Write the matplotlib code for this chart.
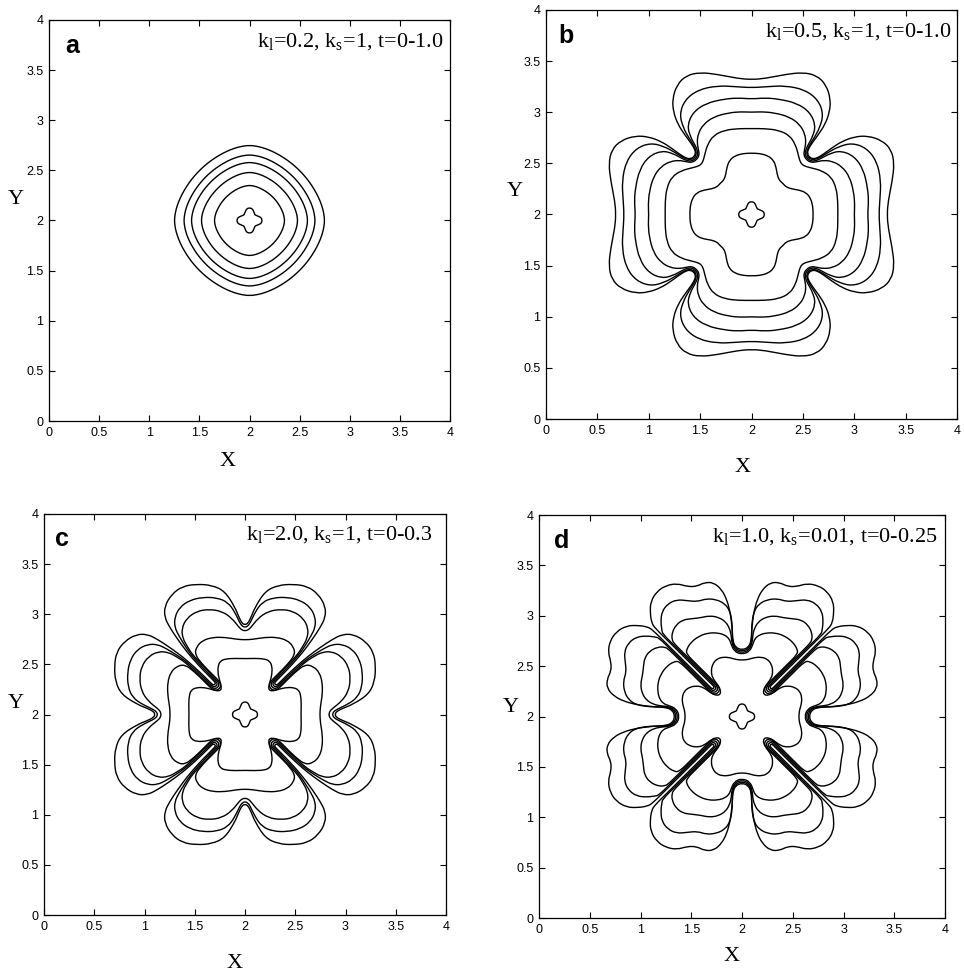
import matplotlib
matplotlib.use("Agg")
import matplotlib.pyplot as plt
from matplotlib.path import Path
from matplotlib.patches import PathPatch
import numpy as np

plt.rcParams.update({
    "font.family": ["Liberation Serif", "DejaVu Serif"],
    "mathtext.fontset": "custom",
    "mathtext.rm": "Liberation Serif",
    "mathtext.it": "Liberation Serif:italic",
    "axes.linewidth": 0.9,
})

W, H = 964, 980
CENTER = (2.0, 2.0)
TICKS = [0, 0.5, 1, 1.5, 2, 2.5, 3, 3.5, 4]
TICK_LABELS = ["0", "0.5", "1", "1.5", "2", "2.5", "3", "3.5", "4"]

PANEL_LETTERS = ["a", "b", "c", "d"]
PANEL_NOTES = [
    r"k$_\mathrm{l}$=0.2, k$_\mathrm{s}$=1, t=0-1.0",
    r"k$_\mathrm{l}$=0.5, k$_\mathrm{s}$=1, t=0-1.0",
    r"k$_\mathrm{l}$=2.0, k$_\mathrm{s}$=1, t=0-0.3",
    r"k$_\mathrm{l}$=1.0, k$_\mathrm{s}$=0.01, t=0-0.25",
]

# each contour: one octant (from the +x axis to the diagonal), offsets from centre;
# the rest of the closed curve follows from the four-fold symmetry
SEED = [(0.125, 0.0), (0.121, 0.02), (0.107, 0.034), (0.087, 0.042), (0.07, 0.05), (0.055, 0.055)]

PANEL_A = [
    [(0.35, 0.0), (0.345, 0.037), (0.336, 0.071), (0.322, 0.106), (0.303, 0.142), (0.28, 0.178),
     (0.257, 0.207), (0.233, 0.233)],
    [(0.48, 0.0), (0.474, 0.051), (0.461, 0.098), (0.442, 0.146), (0.416, 0.195), (0.384, 0.244),
     (0.352, 0.284), (0.319, 0.319)],
    [(0.58, 0.0), (0.572, 0.062), (0.557, 0.118), (0.534, 0.176), (0.503, 0.235), (0.464, 0.295),
     (0.425, 0.343), (0.386, 0.386)],
    [(0.655, 0.0), (0.646, 0.07), (0.629, 0.134), (0.603, 0.199), (0.568, 0.265), (0.524, 0.333),
     (0.48, 0.388), (0.436, 0.436)],
    [(0.75, 0.0), (0.74, 0.08), (0.72, 0.153), (0.69, 0.228), (0.65, 0.304), (0.60, 0.381),
     (0.55, 0.444), (0.499, 0.499)],
]

PANEL_B = [
    [(0.60, 0.0), (0.597, 0.08), (0.575, 0.16), (0.53, 0.215), (0.46, 0.24), (0.39, 0.25), (0.335, 0.27),
     (0.305, 0.305)],
    [(0.84, 0.0), (0.84, 0.13), (0.825, 0.26), (0.775, 0.37), (0.68, 0.43), (0.585, 0.455), (0.525, 0.47),
     (0.49, 0.49)],
    [(1.0, 0.0), (1.005, 0.1), (0.995, 0.22), (0.955, 0.37), (0.88, 0.47), (0.79, 0.52), (0.70, 0.53),
     (0.63, 0.515), (0.58, 0.508), (0.535, 0.535)],
    [(1.13, 0.0), (1.14, 0.13), (1.13, 0.26), (1.09, 0.44), (1.0, 0.57), (0.87, 0.625), (0.76, 0.595),
     (0.68, 0.55), (0.625, 0.525), (0.58, 0.522), (0.546, 0.546)],
    [(1.24, 0.0), (1.25, 0.15), (1.26, 0.33), (1.22, 0.52), (1.12, 0.65), (0.98, 0.70), (0.85, 0.665),
     (0.75, 0.61), (0.68, 0.565), (0.625, 0.54), (0.588, 0.537), (0.555, 0.555)],
    [(1.32, 0.0), (1.33, 0.13), (1.37, 0.33), (1.39, 0.50), (1.36, 0.635), (1.27, 0.725), (1.13, 0.77),
     (1.0, 0.76), (0.88, 0.715), (0.78, 0.65), (0.70, 0.59), (0.635, 0.55), (0.595, 0.545), (0.562, 0.562)],
]

PANEL_C = [
    [(0.557, 0.0), (0.56, 0.10), (0.555, 0.19), (0.535, 0.245), (0.48, 0.27), (0.40, 0.268), (0.33, 0.25),
     (0.28, 0.235), (0.24, 0.24)],
    [(0.745, 0.0), (0.75, 0.08), (0.77, 0.2), (0.77, 0.32), (0.74, 0.42), (0.68, 0.48), (0.60, 0.50),
     (0.50, 0.424), (0.40, 0.324), (0.331, 0.255), (0.293, 0.239), (0.255, 0.255)],
    [(0.835, 0.0), (0.842, 0.03), (0.87, 0.06), (0.96, 0.13), (1.03, 0.23), (1.05, 0.36), (1.03, 0.48),
     (0.96, 0.58), (0.86, 0.63), (0.76, 0.62), (0.68, 0.575), (0.60, 0.525), (0.50, 0.43), (0.40, 0.34),
     (0.33, 0.27), (0.30, 0.258), (0.27, 0.27)],
    [(0.87, 0.0), (0.88, 0.025), (0.91, 0.05), (1.02, 0.10), (1.12, 0.17), (1.165, 0.28), (1.17, 0.42),
     (1.14, 0.55), (1.07, 0.65), (0.97, 0.70), (0.87, 0.70), (0.78, 0.655), (0.69, 0.60), (0.60, 0.54),
     (0.50, 0.45), (0.40, 0.358), (0.327, 0.285), (0.306, 0.276), (0.285, 0.285)],
    [(0.895, 0.0), (0.91, 0.03), (0.97, 0.06), (1.07, 0.10), (1.23, 0.20), (1.29, 0.33), (1.30, 0.48),
     (1.28, 0.62), (1.20, 0.73), (1.08, 0.80), (0.97, 0.80), (0.87, 0.75), (0.75, 0.67), (0.62, 0.575),
     (0.50, 0.47), (0.40, 0.375), (0.326, 0.30), (0.313, 0.295), (0.30, 0.30)],
]

PANEL_D = [
    [(0.56, 0.0), (0.565, 0.06), (0.585, 0.12), (0.59, 0.19), (0.57, 0.25), (0.52, 0.29), (0.45, 0.305),
     (0.38, 0.29), (0.31, 0.235), (0.26, 0.21), (0.215, 0.215)],
    [(0.615, 0.0), (0.647, 0.078), (0.725, 0.11), (0.77, 0.125), (0.81, 0.17), (0.83, 0.24), (0.83, 0.33),
     (0.80, 0.42), (0.74, 0.50), (0.67, 0.545), (0.62, 0.549), (0.50, 0.429), (0.38, 0.309),
     (0.306, 0.235), (0.27, 0.22), (0.235, 0.235)],
    [(0.63, 0.0), (0.659, 0.071), (0.73, 0.10), (0.80, 0.105), (0.87, 0.12), (0.94, 0.16), (0.985, 0.23),
     (1.0, 0.32), (0.98, 0.41), (0.97, 0.50), (0.96, 0.58), (0.91, 0.65), (0.83, 0.69), (0.76, 0.69),
     (0.72, 0.665), (0.60, 0.545), (0.45, 0.395), (0.33, 0.275), (0.305, 0.25), (0.278, 0.239),
     (0.25, 0.25)],
    [(0.645, 0.0), (0.673, 0.067), (0.74, 0.095), (0.85, 0.095), (0.95, 0.10), (1.05, 0.12), (1.12, 0.17),
     (1.16, 0.25), (1.17, 0.35), (1.14, 0.44), (1.15, 0.54), (1.16, 0.64), (1.12, 0.73), (1.04, 0.79),
     (0.94, 0.80), (0.86, 0.79), (0.82, 0.782), (0.70, 0.662), (0.55, 0.512), (0.40, 0.362),
     (0.303, 0.265), (0.284, 0.257), (0.265, 0.265)],
    [(0.66, 0.0), (0.686, 0.064), (0.75, 0.09), (0.85, 0.095), (0.95, 0.105), (1.05, 0.12), (1.16, 0.15),
     (1.26, 0.20), (1.33, 0.28), (1.33, 0.37), (1.29, 0.45), (1.29, 0.54), (1.32, 0.64), (1.30, 0.75),
     (1.24, 0.84), (1.14, 0.90), (1.03, 0.905), (0.93, 0.89), (0.88, 0.859), (0.75, 0.729), (0.60, 0.579),
     (0.45, 0.429), (0.33, 0.309), (0.302, 0.28), (0.291, 0.276), (0.28, 0.28)],
]

PANELS = [PANEL_A, PANEL_B, PANEL_C, PANEL_D]

# axes boxes in pixels: left, top, right, bottom
BOXES = [(49, 20, 450, 421), (546, 10, 957, 419), (44, 514, 446, 915), (539, 515, 945, 918)]
XLABEL_AT = [(228, 461), (743, 468), (235, 963), (732, 956)]
YLABEL_AT = [(16, 200), (515, 192), (16, 703), (511, 707)]
LETTER_AT = [(72, 46), (566, 36), (62, 539), (562, 541)]
NOTE_AT = [(443, 42), (951, 32), (432, 535), (937, 537)]


def unfold(octant):
    p = np.asarray(octant, dtype=float)
    quarter = np.vstack([p, p[-2::-1, ::-1]])
    rots = [np.array([[1, 0], [0, 1]]), np.array([[0, -1], [1, 0]]),
            np.array([[-1, 0], [0, -1]]), np.array([[0, 1], [-1, 0]])]
    ring = np.vstack([quarter[:-1] @ r.T for r in rots])
    return ring + np.array(CENTER)


def ring_path(ring):
    # closed quadratic spline with the ring points as control points
    mid = (ring + np.roll(ring, -1, axis=0)) / 2
    n = len(ring)
    verts = [mid[0]]
    codes = [Path.MOVETO]
    for i in range(1, n + 1):
        verts += [ring[i % n], mid[i % n]]
        codes += [Path.CURVE3, Path.CURVE3]
    return Path(np.array(verts), codes)


def fx(x):
    return x / W


def fy(y):
    return 1 - y / H


fig = plt.figure(figsize=(W / 100, H / 100), dpi=100)

for i, curves in enumerate(PANELS):
    l, t, r, b = BOXES[i]
    ax = fig.add_axes([fx(l), fy(b), (r - l) / W, (b - t) / H])
    for octant in [SEED] + curves:
        ax.add_patch(PathPatch(ring_path(unfold(octant)), fill=False, ec="black", lw=1.0))
    ax.set_xlim(0, 4)
    ax.set_ylim(0, 4)
    ax.set_xticks(TICKS)
    ax.set_yticks(TICKS)
    ax.set_xticklabels(TICK_LABELS, family="Liberation Sans", fontsize=9)
    ax.set_yticklabels(TICK_LABELS, family="Liberation Sans", fontsize=9)
    ax.tick_params(direction="in", top=True, right=True, length=4, width=0.8, pad=4)

    fig.text(fx(XLABEL_AT[i][0]), fy(XLABEL_AT[i][1]), "X", ha="center", va="center", fontsize=16)
    fig.text(fx(YLABEL_AT[i][0]), fy(YLABEL_AT[i][1]), "Y", ha="center", va="center", fontsize=16)
    fig.text(fx(LETTER_AT[i][0]), fy(LETTER_AT[i][1]), PANEL_LETTERS[i], ha="center", va="center",
             fontsize=18, fontweight="bold", family="Liberation Sans")
    fig.text(fx(NOTE_AT[i][0]), fy(NOTE_AT[i][1]), PANEL_NOTES[i], ha="right", va="center", fontsize=16)

fig.savefig("out.png", dpi=100, facecolor="white")
